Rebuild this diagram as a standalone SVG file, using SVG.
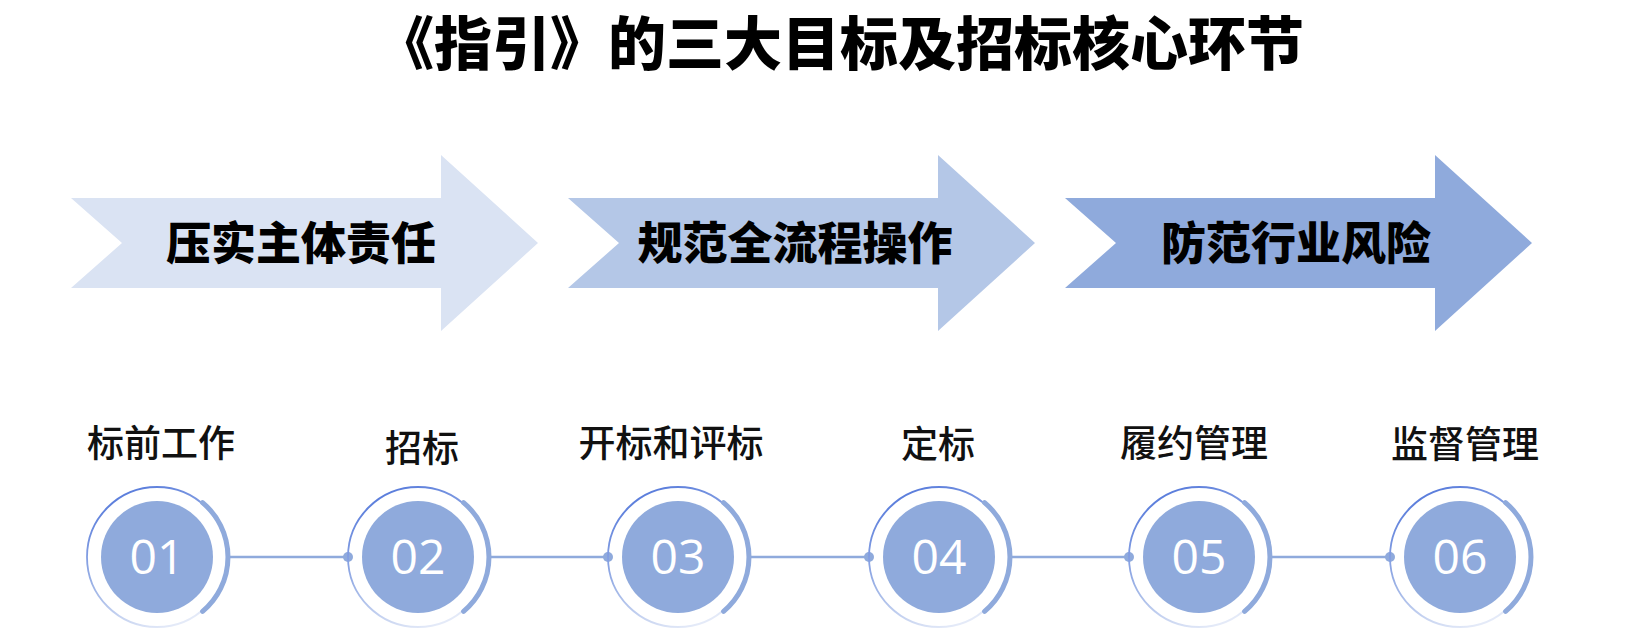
<svg xmlns="http://www.w3.org/2000/svg" width="1630" height="630" viewBox="0 0 1630 630">
<style>
.title{font-family:"Noto Sans CJK SC","Noto Sans",sans-serif;font-weight:900;font-size:58px;fill:#000;text-anchor:middle}
.atext{font-family:"Noto Sans CJK SC","Noto Sans",sans-serif;font-weight:900;font-size:45px;fill:#000;text-anchor:middle}
.label{font-family:"Noto Sans CJK SC","Noto Sans",sans-serif;font-weight:500;font-size:37px;fill:#111;text-anchor:middle}
.num{font-family:"Open Sans","Noto Sans",sans-serif;font-weight:500;font-size:48px;fill:#fff;text-anchor:middle}
.ring{fill:none;stroke:url(#ringGrad);stroke-width:1.8}
.core{fill:#8FAADC}
.arc{fill:none;stroke:#8FAADC;stroke-width:5;stroke-linecap:round}
.conn{stroke:#8FAADC;stroke-width:2.5;fill:none}
.dot{fill:#8FAADC}
</style>
<defs>
<linearGradient id="ringGrad" x1="0.15" y1="0" x2="0.6" y2="1">
<stop offset="0" stop-color="#4F74DA"/>
<stop offset="0.55" stop-color="#9DB3E6"/>
<stop offset="1" stop-color="#E4EAF8"/>
</linearGradient>
</defs>
<rect width="1630" height="630" fill="#fff"/>
<text class="title" x="840" y="65">《指引》的三大目标及招标核心环节</text>

<g id="arrow1">
<path d="M71,198 L441,198 L441,155 L538,243 L441,331 L441,288 L71,288 L122,243 Z" fill="#DAE3F3"/>
<text class="atext" x="301" y="260">压实主体责任</text>
</g>
<g id="arrow2">
<path d="M568,198 L938,198 L938,155 L1035,243 L938,331 L938,288 L568,288 L619,243 Z" fill="#B4C7E7"/>
<text class="atext" x="795" y="260">规范全流程操作</text>
</g>
<g id="arrow3">
<path d="M1065,198 L1435,198 L1435,155 L1532,243 L1435,331 L1435,288 L1065,288 L1116,243 Z" fill="#8FAADC"/>
<text class="atext" x="1296" y="260">防范行业风险</text>
</g>

<g id="connectors">
<line class="conn" x1="229" y1="557" x2="348" y2="557"/>
<line class="conn" x1="490" y1="557" x2="608" y2="557"/>
<line class="conn" x1="750" y1="557" x2="869" y2="557"/>
<line class="conn" x1="1011" y1="557" x2="1129" y2="557"/>
<line class="conn" x1="1271" y1="557" x2="1390" y2="557"/>
<circle class="dot" cx="348" cy="557" r="5"/>
<circle class="dot" cx="608" cy="557" r="5"/>
<circle class="dot" cx="869" cy="557" r="5"/>
<circle class="dot" cx="1129" cy="557" r="5"/>
<circle class="dot" cx="1390" cy="557" r="5"/>
</g>

<g id="step1">
<text class="label" x="161" y="457">标前工作</text>
<circle class="ring" cx="157" cy="557" r="70"/>
<path class="arc" d="M202.6,502.6 A71,71 0 0 1 202.6,611.4"/>
<circle class="core" cx="157" cy="557" r="56"/>
<text class="num" x="157" y="574">01</text>
</g>
<g id="step2">
<text class="label" x="422" y="462">招标</text>
<circle class="ring" cx="418" cy="557" r="70"/>
<path class="arc" d="M463.6,502.6 A71,71 0 0 1 463.6,611.4"/>
<circle class="core" cx="418" cy="557" r="56"/>
<text class="num" x="418" y="574">02</text>
</g>
<g id="step3">
<text class="label" x="671" y="457">开标和评标</text>
<circle class="ring" cx="678" cy="557" r="70"/>
<path class="arc" d="M723.6,502.6 A71,71 0 0 1 723.6,611.4"/>
<circle class="core" cx="678" cy="557" r="56"/>
<text class="num" x="678" y="574">03</text>
</g>
<g id="step4">
<text class="label" x="938" y="458">定标</text>
<circle class="ring" cx="939" cy="557" r="70"/>
<path class="arc" d="M984.6,502.6 A71,71 0 0 1 984.6,611.4"/>
<circle class="core" cx="939" cy="557" r="56"/>
<text class="num" x="939" y="574">04</text>
</g>
<g id="step5">
<text class="label" x="1194" y="457">履约管理</text>
<circle class="ring" cx="1199" cy="557" r="70"/>
<path class="arc" d="M1244.6,502.6 A71,71 0 0 1 1244.6,611.4"/>
<circle class="core" cx="1199" cy="557" r="56"/>
<text class="num" x="1199" y="574">05</text>
</g>
<g id="step6">
<text class="label" x="1465" y="458">监督管理</text>
<circle class="ring" cx="1460" cy="557" r="70"/>
<path class="arc" d="M1505.6,502.6 A71,71 0 0 1 1505.6,611.4"/>
<circle class="core" cx="1460" cy="557" r="56"/>
<text class="num" x="1460" y="574">06</text>
</g>
</svg>
